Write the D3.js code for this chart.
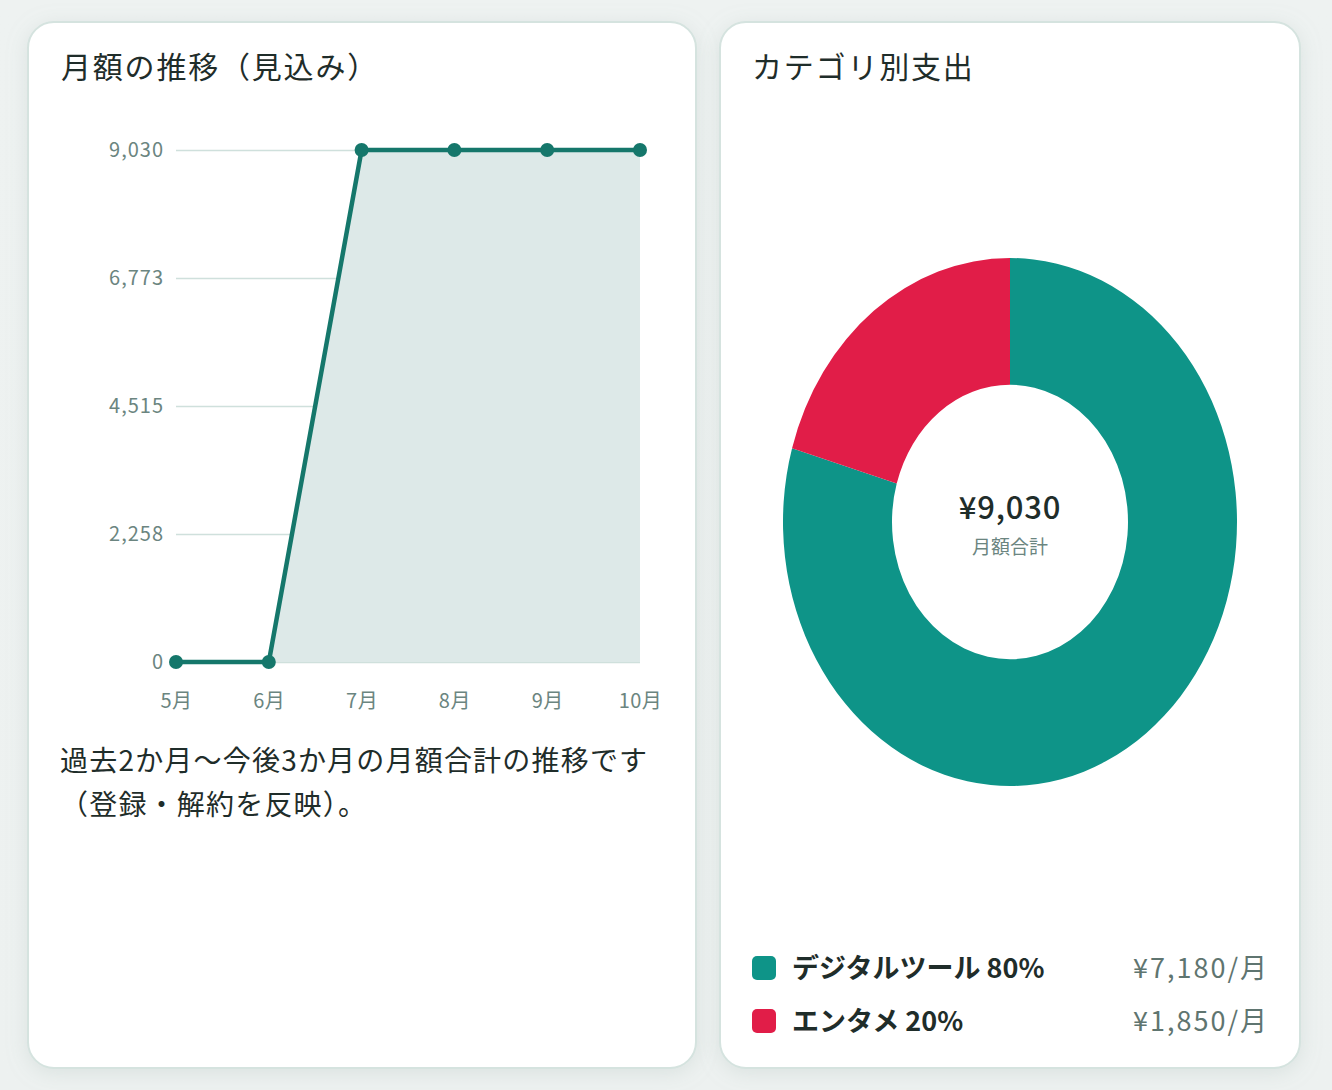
<!DOCTYPE html>
<html lang="ja">
<head>
<meta charset="utf-8">
<script src="https://cdn.jsdelivr.net/npm/d3@7"></script>
<style>
  html, body { margin: 0; padding: 0; }
  body {
    width: 1332px; height: 1090px; overflow: hidden;
    background: linear-gradient(180deg, #eef2f1 0%, #edf1f0 100%);
    font-family: "Noto Sans CJK JP", "Noto Sans", sans-serif;
  }
  svg { display: block; }
</style>
</head>
<body>
<div id="chart"></div>
<script>
// ---- data ----
const months = ["5月", "6月", "7月", "8月", "9月", "10月"];
const monthlyTotals = [0, 0, 9030, 9030, 9030, 9030];
const yTicks = [0, 2258, 4515, 6773, 9030];

const categories = ["デジタルツール", "エンタメ"];
const categoryValues = [7180, 1850];
const categoryPercents = [80, 20];
const categoryColors = ["#0e9488", "#e11d48"];

const W = 1332, H = 1090;
const svg = d3.select("#chart").append("svg")
    .attr("width", W)
    .attr("height", H);

const defs = svg.append("defs");
const shadow = defs.append("filter").attr("id", "shadow")
    .attr("x", "-10%").attr("y", "-10%").attr("width", "120%").attr("height", "120%");
shadow.append("feDropShadow")
    .attr("dx", 0).attr("dy", 4).attr("stdDeviation", 10)
    .attr("flood-color", "#9fb3ae").attr("flood-opacity", 0.25);

// cards
const cards = [
    { x: 28, y: 22, w: 668, h: 1046 },
    { x: 720, y: 22, w: 580, h: 1046 }
];
svg.selectAll(".card")
    .data(cards)
    .enter()
    .append("rect")
    .attr("class", "card")
    .attr("x", d => d.x)
    .attr("y", d => d.y)
    .attr("width", d => d.w)
    .attr("height", d => d.h)
    .attr("rx", 26)
    .attr("fill", "#fff")
    .attr("stroke", "#d5e3df")
    .attr("stroke-width", 2)
    .attr("filter", "url(#shadow)");

// titles
svg.append("text")
    .attr("x", 61).attr("y", 78)
    .style("font-size", "30px")
    .style("letter-spacing", "1.8px")
    .style("fill", "#1f2d2a")
    .text("月額の推移（見込み）");

svg.append("text")
    .attr("x", 752).attr("y", 78)
    .style("font-size", "30px")
    .style("letter-spacing", "1.8px")
    .style("fill", "#1f2d2a")
    .text("カテゴリ別支出");

// ---- line chart ----
const x = d3.scalePoint()
    .domain(months)
    .range([176, 640])
    .padding(0);

const y = d3.scaleLinear()
    .domain([0, 9030])
    .range([662, 150]);

const lineData = months.map((m, i) => ({ month: m, value: monthlyTotals[i] }));

// grid lines
const grid = svg.append("g")
    .attr("transform", "translate(176,0)")
    .call(d3.axisLeft(y)
        .tickValues(yTicks)
        .tickSize(-464)
        .tickFormat(""));
grid.select(".domain").remove();
grid.selectAll("line")
    .attr("stroke", "#cfe0dc")
    .attr("stroke-width", 1.5);

// area
const area = d3.area()
    .x(d => x(d.month))
    .y0(y(0))
    .y1(d => y(d.value));

svg.append("path")
    .datum(lineData)
    .attr("fill", "#dde9e8")
    .attr("d", area);

// y axis labels
const yAxis = svg.append("g")
    .attr("transform", "translate(164,0)")
    .call(d3.axisLeft(y)
        .tickValues(yTicks)
        .tickSize(0)
        .tickPadding(0)
        .tickFormat(d3.format(",")));
yAxis.select(".domain").remove();
yAxis.selectAll("text")
    .style("font-family", "'Noto Sans CJK JP', sans-serif")
    .style("font-size", "20px")
    .style("letter-spacing", "1px")
    .style("fill", "#6b8580");

// x axis labels
const xAxis = svg.append("g")
    .attr("transform", "translate(0,694)")
    .call(d3.axisBottom(x).tickSize(0).tickPadding(0));
xAxis.select(".domain").remove();
xAxis.selectAll("text")
    .style("font-family", "'Noto Sans CJK JP', sans-serif")
    .style("font-size", "20px")
    .style("letter-spacing", "0.5px")
    .style("fill", "#6b8580");

// line
const line = d3.line()
    .x(d => x(d.month))
    .y(d => y(d.value));

svg.append("path")
    .datum(lineData)
    .attr("fill", "none")
    .attr("stroke", "#15776b")
    .attr("stroke-width", 4.5)
    .attr("stroke-linejoin", "round")
    .attr("d", line);

svg.selectAll(".dot")
    .data(lineData)
    .enter()
    .append("circle")
    .attr("class", "dot")
    .attr("cx", d => x(d.month))
    .attr("cy", d => y(d.value))
    .attr("r", 7)
    .attr("fill", "#15776b");

// caption
const caption = svg.append("text")
    .style("font-size", "28px")
    .style("letter-spacing", "1.2px")
    .style("fill", "#1f2d2a");
caption.append("tspan").attr("x", 60).attr("y", 771)
    .text("過去2か月〜今後3か月の月額合計の推移です");
caption.append("tspan").attr("x", 60).attr("y", 815)
    .text("（登録・解約を反映）。");

// ---- donut ----
const cx = 1010, cy = 522;
const pieData = categories.map((c, i) => ({
    name: c,
    value: categoryValues[i],
    pct: categoryPercents[i],
    color: categoryColors[i]
}));

const pie = d3.pie()
    .sort(null)
    .value(d => d.value);

const arc = d3.arc()
    .innerRadius(118)
    .outerRadius(227);

const donut = svg.append("g")
    .attr("transform", `translate(${cx},${cy}) scale(1,1.163)`);

donut.selectAll("path")
    .data(pie(pieData))
    .enter()
    .append("path")
    .attr("d", arc)
    .attr("fill", d => d.data.color);

const total = d3.sum(categoryValues);
svg.append("text")
    .attr("x", cx).attr("y", 519)
    .attr("text-anchor", "middle")
    .style("font-size", "31px")
    .style("font-weight", 500)
    .style("letter-spacing", "0.8px")
    .style("fill", "#1f2d2a")
    .text("¥" + d3.format(",")(total));

svg.append("text")
    .attr("x", cx).attr("y", 554)
    .attr("text-anchor", "middle")
    .style("font-size", "19px")
    .style("fill", "#6b8580")
    .text("月額合計");

// legend
const legend = svg.selectAll(".legend")
    .data(pieData)
    .enter()
    .append("g")
    .attr("class", "legend")
    .attr("transform", (d, i) => `translate(0, ${968 + i * 53})`);

legend.append("rect")
    .attr("x", 752).attr("y", -12)
    .attr("width", 24).attr("height", 24)
    .attr("rx", 5)
    .attr("fill", d => d.color);

legend.append("text")
    .attr("x", 792).attr("y", 10)
    .style("font-size", "27px")
    .style("font-weight", 700)
    .style("fill", "#1f2d2a")
    .text(d => `${d.name} ${d.pct}%`);

legend.append("text")
    .attr("x", 1269).attr("y", 10)
    .attr("text-anchor", "end")
    .style("font-size", "27px")
    .style("letter-spacing", "2px")
    .style("fill", "#5f7570")
    .text(d => `¥${d3.format(",")(d.value)}/月`);
</script>
</body>
</html>
